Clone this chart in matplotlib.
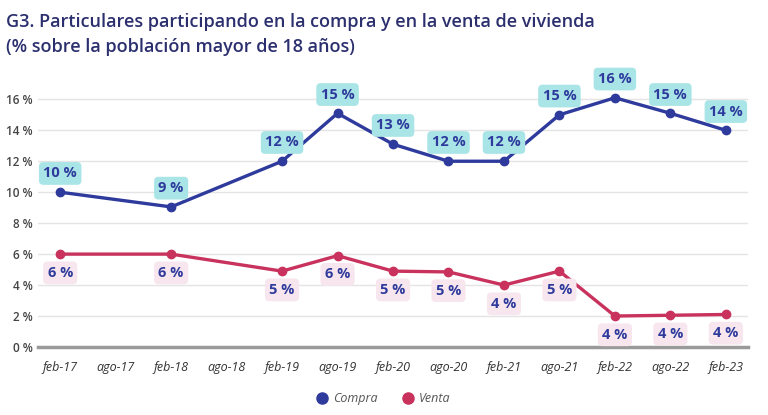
import numpy as np
import matplotlib.pyplot as plt

# data
periodos = ['feb-17', 'ago-17', 'feb-18', 'ago-18', 'feb-19', 'ago-19', 'feb-20',
            'ago-20', 'feb-21', 'ago-21', 'feb-22', 'ago-22', 'feb-23']
compra = [10.0, np.nan, 9.05, np.nan, 12.0, 15.1, 13.1, 12.0, 12.0, 15.0, 16.1, 15.1, 14.0]
venta = [6.0, np.nan, 6.0, np.nan, 4.9, 5.9, 4.9, 4.85, 4.0, 4.9, 2.0, 2.05, 2.1]
compra_lab = [10, None, 9, None, 12, 15, 13, 12, 12, 15, 16, 15, 14]
venta_lab = [6, None, 6, None, 5, 6, 5, 5, 4, 5, 4, 4, 4]

azul = '#2E3A9C'
rojo = '#C8325C'
navy = '#2B2F6E'

plt.rcParams['font.family'] = ['Open Sans', 'DejaVu Sans']

fig = plt.figure(figsize=(7.68, 4.15), dpi=100)
ax = fig.add_axes([0.0495, 0.1639, 0.9245, 0.6154])

x = np.arange(len(periodos))
c = np.array(compra)
v = np.array(venta)
mc = ~np.isnan(c)
mv = ~np.isnan(v)

ax.plot(x[mc], c[mc], color=azul, lw=2.4, marker='o', ms=6, zorder=3, label='Compra')
ax.plot(x[mv], v[mv], color=rojo, lw=2.4, marker='o', ms=6, zorder=3, label='Venta')

caja = 'round,pad=0.3,rounding_size=0.3'
for i in x:
    if compra_lab[i] is not None:
        ax.annotate(f'{compra_lab[i]} %', (i, c[i]), xytext=(0, 13.5), textcoords='offset points',
                    ha='center', va='center', fontsize=10.5, fontweight='bold', color=azul,
                    bbox=dict(boxstyle=caja, fc='#A9E5E6', ec='none'),
                    annotation_clip=False, zorder=4)
    if venta_lab[i] is not None:
        ax.annotate(f'{venta_lab[i]} %', (i, v[i]), xytext=(0, -13.5), textcoords='offset points',
                    ha='center', va='center', fontsize=10.5, fontweight='bold', color=azul,
                    bbox=dict(boxstyle=caja, fc='#F7E6EE', ec='none'),
                    annotation_clip=False, zorder=4)

ax.set_xlim(-0.4, 12.4)
ax.set_ylim(0, 16.5)
ax.set_yticks(range(0, 17, 2))
ax.set_yticklabels([f'{t} %' for t in range(0, 17, 2)], fontsize=8.5, fontweight='semibold', color='#444444')
ax.set_xticks(x)
ax.set_xticklabels(periodos, fontsize=9, style='italic', color='#333333')
ax.tick_params(length=0)
ax.tick_params(axis='y', pad=4)
ax.tick_params(axis='x', pad=10)
ax.grid(axis='y', color='#E4E4E4', lw=1)
ax.set_axisbelow(True)
for s in ['top', 'right', 'left']:
    ax.spines[s].set_visible(False)
ax.spines['bottom'].set_color('#9A9A9A')
ax.spines['bottom'].set_linewidth(2.5)

leg = fig.legend(loc='center', bbox_to_anchor=(0.5, 0.04), ncol=2, frameon=False,
                 handlelength=0.8, handletextpad=0.5, columnspacing=2.0,
                 prop={'style': 'italic', 'size': 9})
for h in leg.legend_handles:
    h.set_linestyle('none')
    h.set_markersize(8)
for t in leg.get_texts():
    t.set_color('#555555')

fig.text(0.008, 0.948, 'G3. Particulares participando en la compra y en la venta de vivienda',
         fontsize=13, fontweight='semibold', color=navy, va='center')
fig.text(0.008, 0.886, '(% sobre la población mayor de 18 años)',
         fontsize=13, fontweight='semibold', color=navy, va='center')

fig.savefig('out.png', dpi=100)
